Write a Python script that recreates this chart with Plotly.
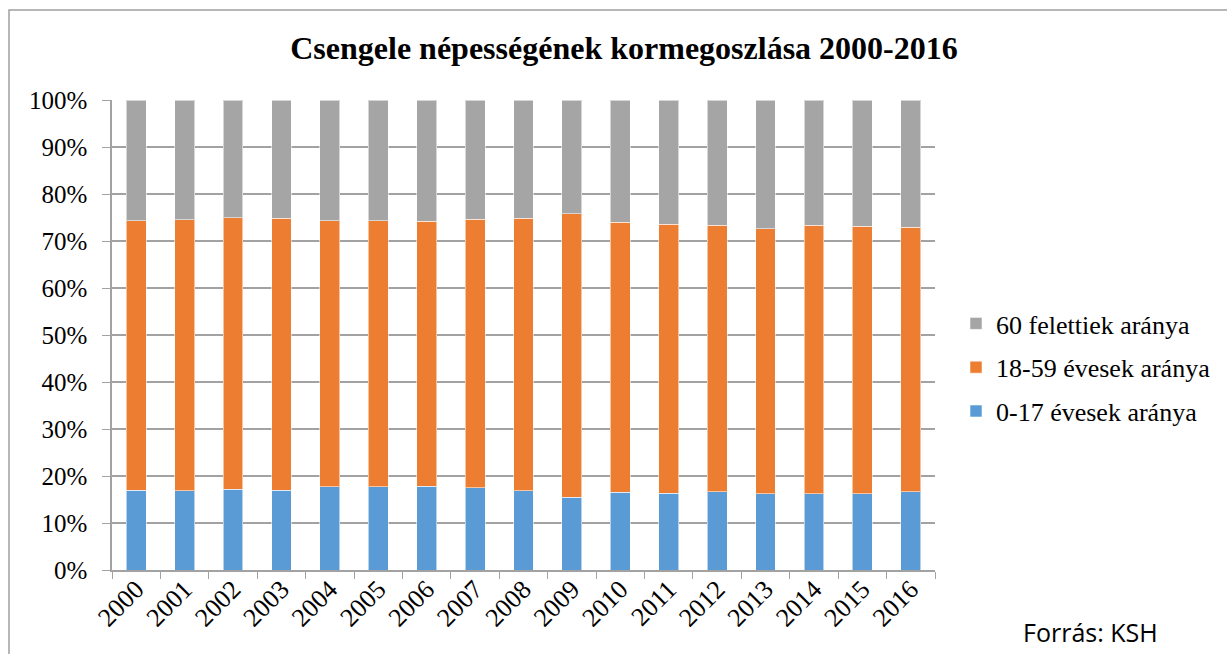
import plotly.graph_objects as go

# Data (percent)
years = [str(y) for y in range(2000, 2017)]
young = [17.0, 16.9, 17.2, 17.0, 17.7, 17.7, 17.8, 17.5, 16.9, 15.5, 16.5, 16.3, 16.6, 16.2, 16.2, 16.2, 16.6]
top_of_middle = [74.3, 74.5, 75.0, 74.8, 74.3, 74.3, 74.2, 74.6, 74.8, 75.8, 74.0, 73.6, 73.3, 72.6, 73.3, 73.1, 72.9]
adult = [round(t - y, 1) for t, y in zip(top_of_middle, young)]
old = [round(100 - t, 1) for t in top_of_middle]

series_names = ['0-17 évesek aránya', '18-59 évesek aránya', '60 felettiek aránya']
colors = ['#5b9bd5', '#ed7d31', '#a5a5a5']

W, H = 1227, 654
L, R, T, B = 112, 292, 100, 84
pw, ph = W - L - R, H - T - B

serif = 'Liberation Serif, serif'

fig = go.Figure()
for i, (name, vals) in enumerate(zip(series_names, [young, adult, old])):
    fig.add_trace(go.Bar(
        x=years,
        y=[v / 100 for v in vals],
        name=name,
        legendgroup=str(i),
        legendrank=3 - i,  # gray on top in legend
        marker=dict(color=colors[i], line=dict(color='rgba(255,255,255,0.55)', width=1)),
    ))

fig.update_layout(
    width=W, height=H,
    barmode='stack',
    bargap=0.59,
    plot_bgcolor='white',
    paper_bgcolor='white',
    margin=dict(l=L, r=R, t=T, b=B, autoexpand=False),
    font=dict(family=serif, size=25, color='black'),
    title=dict(
        text='<b>Csengele népességének kormegoszlása 2000-2016</b>',
        x=624 / W, xanchor='center',
        y=1 - 48 / H, yanchor='middle',
        font=dict(family=serif, size=32, color='black'),
    ),
    legend=dict(
        x=(956 - L) / pw, xanchor='left',
        y=(570 - 300) / ph, yanchor='top',
        traceorder='grouped',
        tracegroupgap=7,
        font=dict(family=serif, size=26),
        itemwidth=30,
    ),
    showlegend=True,
)

fig.update_yaxes(
    range=[0, 1],
    dtick=0.1,
    tickformat='.0%',
    showgrid=True, gridcolor='#a2a2a2', gridwidth=1.5,
    showline=True, linecolor='#a2a2a2', linewidth=1.5,
    ticks='outside', ticklen=8, tickcolor='#a2a2a2',
    ticklabelstandoff=10,
    tickfont=dict(family=serif, size=25),
    zeroline=False,
)
fig.update_xaxes(
    tickangle=-45,
    showline=True, linecolor='#a2a2a2', linewidth=1.5,
    ticks='outside', ticklen=7, tickcolor='#a2a2a2',
    tickson='boundaries',
    ticklabelstandoff=-8,
    tickfont=dict(family=serif, size=26),
)

# Outer frame
fig.add_shape(
    type='rect', xref='paper', yref='paper',
    x0=(9 - L) / pw, x1=(1240 - L) / pw,
    y0=(570 - 680) / ph, y1=(570 - 10) / ph,
    line=dict(color='#a0a0a0', width=1.5),
)

fig.add_annotation(
    text='Forrás: KSH',
    xref='paper', yref='paper',
    x=(1090 - L) / pw, y=(570 - 632) / ph,
    xanchor='center', yanchor='middle',
    showarrow=False,
    font=dict(family='Open Sans', size=25, color='black'),
)

fig.write_html('out.html', config={'displayModeBar': False},
               post_script="document.body.style.margin='0';")
